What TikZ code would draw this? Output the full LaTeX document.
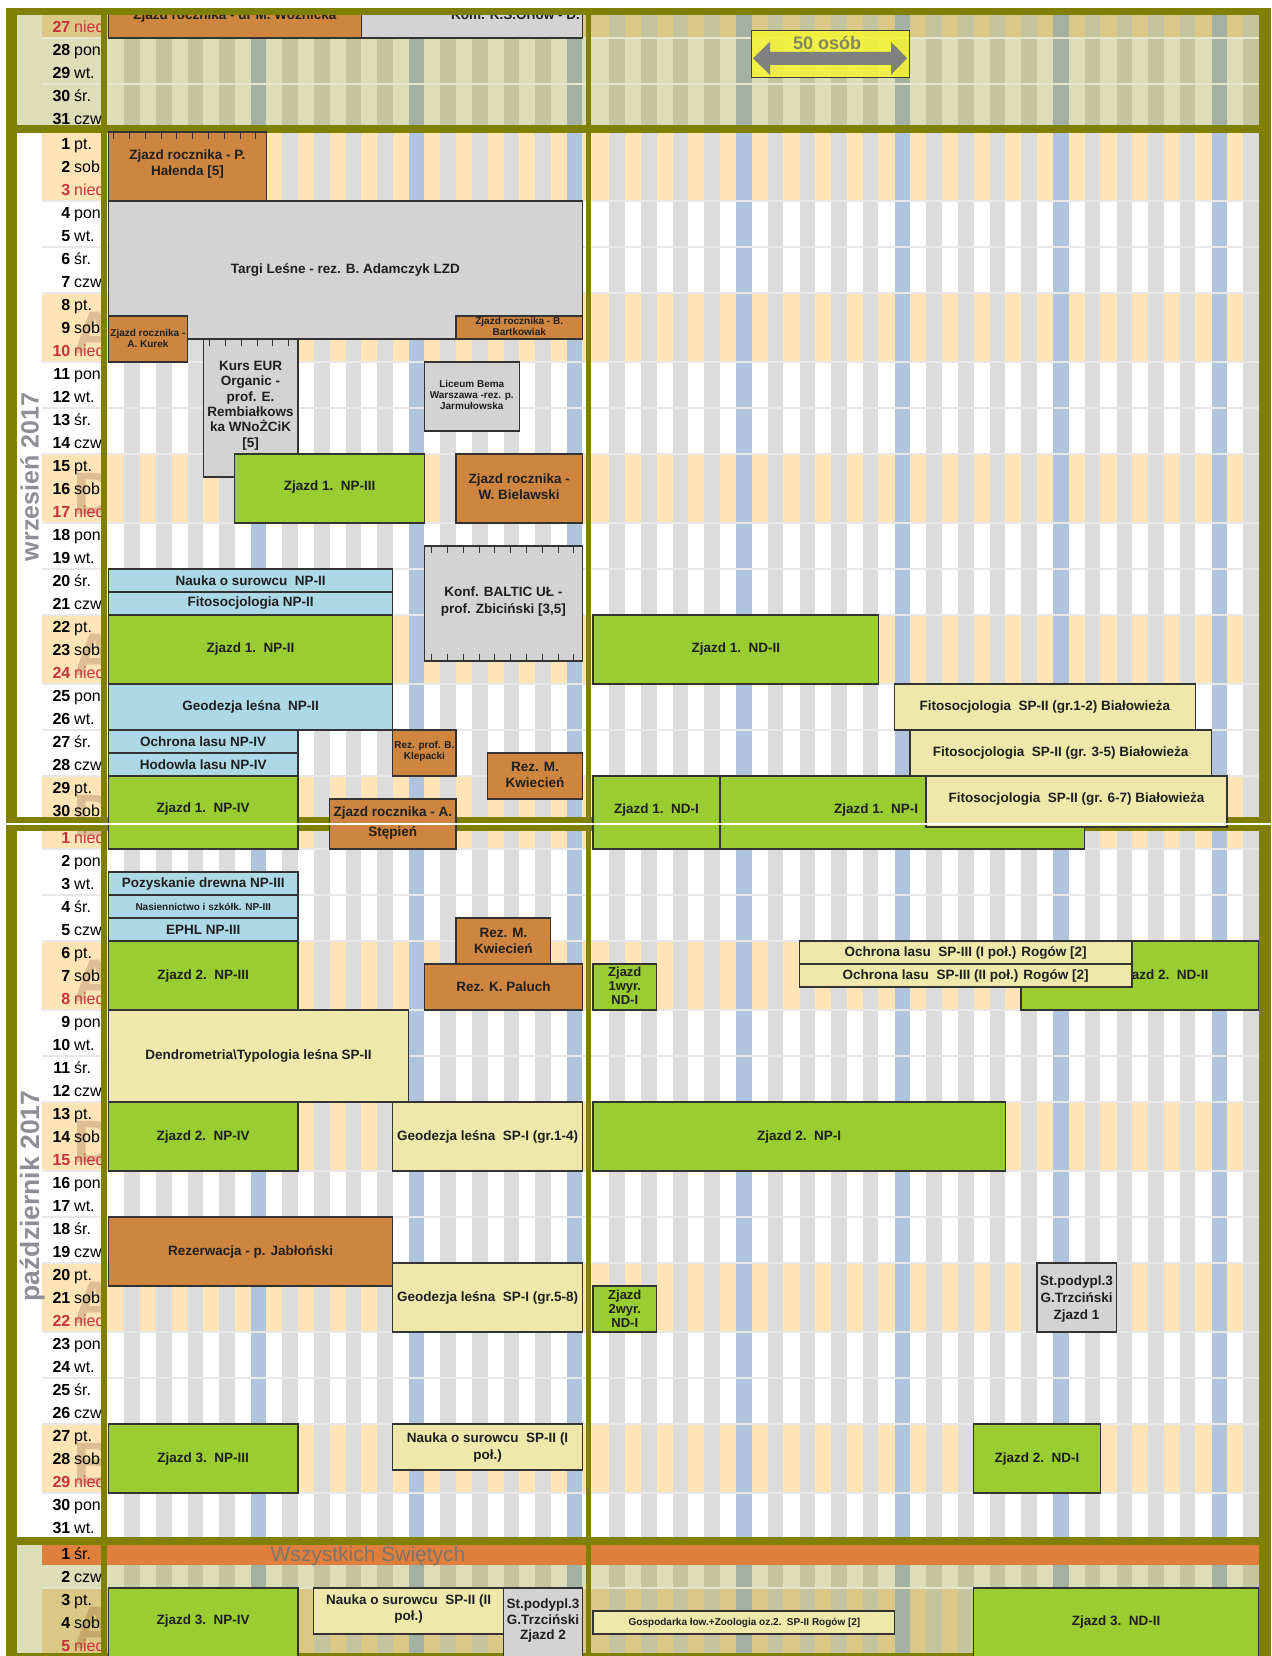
\documentclass[tikz,border=0pt]{standalone}
\usepackage{fontspec}
\setmainfont{Liberation Sans}

\definecolor{oliveband}{HTML}{808000}
\definecolor{peach}{HTML}{FFE4B5}
\definecolor{stripe}{HTML}{DCDCDC}
\definecolor{stripeblue}{HTML}{B0C4DE}
\definecolor{dimbase}{HTML}{DDDDB9}
\definecolor{dimwkend}{HTML}{DCC886}
\definecolor{dimstripe}{HTML}{C4C4A1}
\definecolor{dimblue}{HTML}{A2B1A1}
\definecolor{groupline}{HTML}{E8E8E8}
\definecolor{dimline}{HTML}{E6E6CF}
\definecolor{rocznik}{HTML}{CD853F}
\definecolor{zjazd}{HTML}{9ACD32}
\definecolor{kurs}{HTML}{ADD8E6}
\definecolor{teren}{HTML}{EEE8AA}
\definecolor{obcy}{HTML}{D3D3D3}
\definecolor{swieto}{HTML}{DF7F3E}
\definecolor{swietotxt}{HTML}{7E7468}
\definecolor{sunday}{HTML}{C8323C}
\definecolor{monthtxt}{HTML}{8E8E96}
\definecolor{weekmark}{HTML}{DDBE92}
\definecolor{weekmarkdim}{HTML}{C4A96A}
\definecolor{legendyellow}{HTML}{F4F336}
\definecolor{legendtxt}{HTML}{85855F}
\definecolor{arrowgray}{HTML}{808080}

\tikzset{
  evt/.style={draw=black!80, line width=1.3pt},
  tick/.style={draw=black!80, line width=0.9pt},
  lbl/.style={font=\bfseries\fontsize{13.5}{16}\selectfont, align=center, text=black!88, inner sep=0pt},
  tiny/.style={font=\bfseries\fontsize{10}{11}\selectfont, align=center, text=black!88, inner sep=0pt},
  daynum/.style={font=\bfseries\fontsize{16}{16}\selectfont, anchor=base east, inner sep=0pt},
  dayname/.style={font=\fontsize{16}{16}\selectfont, anchor=base west, inner sep=0pt},
  month/.style={font=\bfseries\fontsize{25}{25}\selectfont, text=monthtxt, rotate=90, anchor=base, inner sep=0pt},
  week/.style={font=\bfseries\fontsize{60}{60}\selectfont, text=weekmark, anchor=base west, inner sep=0pt}
}

% event box: fill, x1, y1, x2, y2
\newcommand{\evbox}[5]{\filldraw[evt, fill=#1] (#2,#3) rectangle (#4,#5);}
\newcommand{\wday}[1]{\ifcase#1 pon.\or wt.\or śr.\or czw.\or pt.\or sob.\or nied.\fi}
% day labels: prefix, first day, last day, weekday of first day, first baseline
\newcommand{\daylabels}[5]{%
  \foreach \d [count=\i from 0] in {#2,...,#3} {
    \pgfmathtruncatemacro\wk{mod(\i+#4,7)}
    \ifnum\wk=6 \def\dcol{sunday}\else\def\dcol{black}\fi
    \node[daynum, text=\dcol] (#1\d) at (70.5,{#5+23*\i}) {\d};
    \node[dayname, text=\dcol] (#1w\d) at (74,{#5+23*\i}) {\wday{\wk}};
  }}

\begin{document}
\begin{tikzpicture}[x=1pt,y=-1pt]
\useasboundingbox (0,0) rectangle (1271,1656);
\clip (0,0) rectangle (1271,1656);
\fill[white] (0,0) rectangle (1271,1656);

% row backgrounds
\fill[dimbase] (17,15) rectangle (1259,130);
\fill[dimwkend] (42,15) rectangle (1259,38);
\foreach \a/\b in {132/201, 293/362, 454/523, 615/684, 776/822, 826/849, 941/1010, 1102/1171, 1263/1332, 1424/1493}
  \fill[peach] (42,\a) rectangle (1259,\b);
\fill[dimbase] (17,1542) rectangle (1259,1656);
\fill[dimwkend] (42,1588) rectangle (1259,1656);

% column stripes
\foreach \ya/\yb/\sc/\bc in {15/130/dimstripe/dimblue, 132/822/stripe/stripeblue, 826/1539/stripe/stripeblue, 1542/1656/dimstripe/dimblue} {
  \foreach \k in {0,...,14} \fill[\sc] ({124.4+31.6*\k},\ya) rectangle ({140+31.6*\k},\yb);
  \foreach \k in {4,9,14} \fill[\bc] ({124.4+31.6*\k},\ya) rectangle ({140+31.6*\k},\yb);
  \foreach \k in {0,...,20} \fill[\sc] ({609.3+31.7*\k},\ya) rectangle ({624.8+31.7*\k},\yb);
  \foreach \k in {4,9,14,19} \fill[\bc] ({609.3+31.7*\k},\ya) rectangle ({624.8+31.7*\k},\yb);
}

% week group lines
\foreach \y in {38,84,1588} \draw[dimline, line width=2.5pt] (42,\y) -- (1259,\y);
\foreach \y in {201,247,293,362,408,454,523,569,615,684,730,776,849,895,941,1010,1056,1102,1171,1217,1263,1332,1378,1424,1493}
  \draw[groupline, line width=2.5pt] (42,\y) -- (1259,\y);
\fill[swieto] (42,1542) rectangle (1259,1565);

% day labels
\begin{scope}
  \clip (42,0) rectangle (101.4,1656);
  \foreach \t/\l [count=\i] in {293/A,454/D,615/A,776/D,941/A,1102/D,1263/A,1424/B}
    \node[week] (mark\i) at (73,\t+60) {\l};
  \node[week, text=weekmarkdim] (markn) at (73,1648) {A};
  \daylabels{aug}{27}{31}{6}{32.3}
  \daylabels{sep}{1}{30}{4}{149.3}
  \daylabels{oct}{1}{31}{6}{843.3}
  \daylabels{nov}{1}{5}{2}{1559.3}
\end{scope}
\node[month] (wrzesien) at (38.5,477) {wrzesień 2017};
\node[month, font=\bfseries\fontsize{26.5}{26.5}\selectfont] (pazdziernik) at (39,1196) {październik 2017};

% frame
\fill[oliveband] (5.7,8) rectangle (17,1656);
\fill[oliveband] (101.4,8) rectangle (107.2,1656);
\fill[oliveband] (585.5,8) rectangle (591,1656);
\fill[oliveband] (1259,8) rectangle (1271,1656);
\fill[oliveband] (5.7,125) rectangle (1271,133);
\fill[oliveband] (5.7,817) rectangle (1271,831);
\fill[oliveband] (5.7,1537) rectangle (1271,1545);
\fill[oliveband] (5.7,1653) rectangle (1271,1656);

% August
\evbox{rocznik}{108.4}{-5}{361.2}{38}
\node[lbl, anchor=base] (woznicka) at (234.8,19.5) {Zjazd rocznika - dr M. Woźnicka};
\evbox{obcy}{361.2}{-5}{582.4}{38}
\node[lbl, anchor=base east] (orlow) at (580,19.5) {Kom. K.S.Orłow - D.};
\filldraw[draw=black!75, line width=1pt, fill=legendyellow, fill opacity=0.88] (751,31) rectangle (909,78);
\fill[arrowgray] (753,58.3) -- (770,41.8) -- (770,51.8) -- (891,51.8) -- (891,41.8) -- (907,58.3) -- (891,74.8) -- (891,64.8) -- (770,64.8) -- (770,74.8) -- cycle;
\node[font=\bfseries\fontsize{18}{18}\selectfont, text=legendtxt, inner sep=0pt] (osob) at (827,43) {50 osób};

% September
\evbox{rocznik}{108.4}{132}{266.4}{201}
\foreach \t in {0,...,9} \draw[tick] (113.7+15.8*\t,132) -- ++(0,7);
\node[lbl] (halenda) at (187.4,164) {Zjazd rocznika - P.\\Hałenda [5]};
\evbox{obcy}{108.4}{201}{582.4}{339}
\node[lbl] (targi) at (345.4,270) {Targi Leśne - rez. B. Adamczyk LZD};
\evbox{rocznik}{108.4}{316}{187.4}{362}
\node[tiny] (kurek) at (147.9,338) {Zjazd rocznika -\\A. Kurek};
\evbox{rocznik}{456}{316}{582.4}{339}
\node[tiny] (bartkowiak) at (519.2,326) {Zjazd rocznika - B.\\Bartkowiak};
\evbox{obcy}{203.2}{339}{298}{477}
\foreach \t in {0,...,5} \draw[tick] (209.7+15.8*\t,339) -- ++(0,7);
\node[lbl, font=\bfseries\fontsize{13.5}{15.4}\selectfont] (eur) at (250.6,405.6) {Kurs EUR\\Organic -\\prof. E.\\Rembiałkows\\ka WNoŻCiK\\{[5]}};
\evbox{obcy}{424.4}{362}{519.2}{431}
\node[tiny] (liceum) at (471.8,394.5) {Liceum Bema\\Warszawa -rez. p.\\Jarmułowska};
\evbox{zjazd}{234.8}{454}{424.4}{523}
\node[lbl] (np3a) at (329.6,487.5) {Zjazd 1.\ \ NP-III};
\evbox{rocznik}{456}{454}{582.4}{523}
\node[lbl] (bielawski) at (519.2,486.5) {Zjazd rocznika -\\W. Bielawski};
\evbox{obcy}{424.4}{546}{582.4}{661}
\foreach \t in {0,...,9} {
  \draw[tick] (431.7+15.8*\t,546) -- ++(0,7);
  \draw[tick] (431.7+15.8*\t,661) -- ++(0,-7);
}
\node[lbl, font=\bfseries\fontsize{13.5}{17}\selectfont] (baltic) at (503.4,601.5) {Konf. BALTIC UŁ -\\prof. Zbiciński [3,5]};
\evbox{kurs}{108.4}{569}{392.8}{592}
\node[lbl] (nauka2) at (250.6,580.5) {Nauka o surowcu\ \ NP-II};
\evbox{kurs}{108.4}{592}{392.8}{615}
\node[lbl] (fito2) at (250.6,603.5) {Fitosocjologia NP-II};
\evbox{zjazd}{108.4}{615}{392.8}{684}
\node[lbl] (np2a) at (250.6,649.5) {Zjazd 1.\ \ NP-II};
\evbox{kurs}{108.4}{684}{392.8}{730}
\node[lbl] (geo2) at (250.6,707) {Geodezja leśna\ \ NP-II};
\evbox{kurs}{108.4}{730}{298}{753}
\node[lbl] (ochr4) at (203.2,741.5) {Ochrona lasu NP-IV};
\evbox{kurs}{108.4}{753}{298}{776}
\node[lbl] (hod4) at (203.2,764.5) {Hodowla lasu NP-IV};
\evbox{zjazd}{108.4}{776}{298}{849}
\node[lbl] (np4a) at (203.2,809) {Zjazd 1.\ \ NP-IV};
\evbox{rocznik}{392.8}{730}{456}{776}
\node[tiny] (klepacki) at (424.4,751.5) {Rez. prof. B.\\Klepacki};
\evbox{rocznik}{487.6}{753}{582.4}{799}
\node[lbl] (kwiecienA) at (535,774.5) {Rez. M.\\Kwiecień};
\evbox{rocznik}{329.6}{799}{456}{849}
\node[lbl, font=\bfseries\fontsize{13.5}{20}\selectfont] (stepien) at (392.8,823) {Zjazd rocznika - A.\\Stępień};
\evbox{zjazd}{593.1}{615}{878.4}{684}
\node[lbl] (nd2a) at (735.8,649.5) {Zjazd 1.\ \ ND-II};
\evbox{teren}{894.3}{684}{1195.4}{730}
\node[lbl] (fitoA) at (1044.9,707) {Fitosocjologia\ \ SP-II (gr.1-2) Białowieża};
\evbox{teren}{910.1}{730}{1211.3}{776}
\node[lbl] (fitoB) at (1060.7,753) {Fitosocjologia\ \ SP-II (gr. 3-5) Białowieża};
\evbox{zjazd}{593.1}{776}{719.9}{849}
\node[lbl] (nd1a) at (656.5,810) {Zjazd 1.\ \ ND-I};
\evbox{zjazd}{719.9}{776}{1084.5}{849}
\node[lbl] (np1a) at (876,810) {Zjazd 1.\ \ NP-I};
\evbox{teren}{926}{776}{1227.1}{827}
\node[lbl] (fitoC) at (1076.5,799) {Fitosocjologia\ \ SP-II (gr. 6-7) Białowieża};

% October
\evbox{kurs}{108.4}{872}{298}{895}
\node[lbl] (pozysk) at (203.2,883.5) {Pozyskanie drewna NP-III};
\evbox{kurs}{108.4}{895}{298}{918}
\node[tiny] (nasien) at (203.2,906.5) {Nasiennictwo i szkółk. NP-III};
\evbox{kurs}{108.4}{918}{298}{941}
\node[lbl] (ephl) at (203.2,929.5) {EPHL NP-III};
\evbox{zjazd}{108.4}{941}{298}{1010}
\node[lbl] (np3b) at (203.2,975.5) {Zjazd 2.\ \ NP-III};
\evbox{rocznik}{456}{918}{550.8}{964}
\node[lbl] (kwiecienB) at (503.4,941) {Rez. M.\\Kwiecień};
\evbox{rocznik}{424.4}{964}{582.4}{1010}
\node[lbl] (paluch) at (503.4,987) {Rez. K. Paluch};
\evbox{teren}{108.4}{1010}{408.6}{1102}
\node[lbl] (dendro) at (258.5,1056) {Dendrometria\textbackslash Typologia leśna SP-II};
\evbox{zjazd}{108.4}{1102}{298}{1171}
\node[lbl] (np4b) at (203.2,1136.5) {Zjazd 2.\ \ NP-IV};
\evbox{teren}{392.8}{1102}{582.4}{1171}
\node[lbl] (geoA) at (487.6,1136.5) {Geodezja leśna\ \ SP-I (gr.1-4)};
\evbox{rocznik}{108.4}{1217}{392.8}{1286}
\node[lbl] (jablonski) at (250.6,1251.5) {Rezerwacja - p. Jabłoński};
\evbox{teren}{392.8}{1263}{582.4}{1332}
\node[lbl] (geoB) at (487.6,1297.5) {Geodezja leśna\ \ SP-I (gr.5-8)};
\evbox{zjazd}{108.4}{1424}{298}{1493}
\node[lbl] (np3c) at (203.2,1458.5) {Zjazd 3.\ \ NP-III};
\evbox{teren}{392.8}{1424}{582.4}{1470}
\node[lbl, font=\bfseries\fontsize{13.5}{17}\selectfont] (naukaA) at (487.6,1447.5) {Nauka o surowcu\ \ SP-II (I\\poł.)};
\evbox{zjazd}{593.1}{964}{656.5}{1010}
\node[lbl, font=\bfseries\fontsize{13}{14}\selectfont] (wyr1) at (624.8,986) {Zjazd\\1wyr.\\ND-I};
\evbox{zjazd}{1021}{941}{1258.8}{1010}
\node[lbl] (nd2b) at (1164,976) {Zjazd 2.\ \ ND-II};
\evbox{teren}{799.2}{941}{1132}{964}
\node[lbl] (ochrA) at (965.6,952.5) {Ochrona lasu\ \ SP-III (I poł.) Rogów [2]};
\evbox{teren}{799.2}{964}{1132}{987}
\node[lbl] (ochrB) at (965.6,975.5) {Ochrona lasu\ \ SP-III (II poł.) Rogów [2]};
\evbox{zjazd}{593.1}{1102}{1005.2}{1171}
\node[lbl] (np1b) at (799.2,1136.5) {Zjazd 2.\ \ NP-I};
\evbox{obcy}{1036.9}{1263}{1116.2}{1332}
\node[lbl, font=\bfseries\fontsize{13.5}{17}\selectfont] (podypl1) at (1076.5,1299) {St.podypl.3\\G.Trzciński\\Zjazd 1};
\evbox{zjazd}{593.1}{1286}{656.5}{1332}
\node[lbl, font=\bfseries\fontsize{13}{14}\selectfont] (wyr2) at (624.8,1309) {Zjazd\\2wyr.\\ND-I};
\evbox{zjazd}{973.5}{1424}{1100.3}{1493}
\node[lbl] (nd1b) at (1036.9,1458.5) {Zjazd 2.\ \ ND-I};

% November
\node[font=\fontsize{21}{21}\selectfont, text=swietotxt, inner sep=0pt] (swieta) at (368,1554) {Wszystkich Świętych};
\evbox{zjazd}{108.4}{1588}{298}{1665}
\node[lbl] (np4c) at (203.2,1621) {Zjazd 3.\ \ NP-IV};
\evbox{teren}{313.8}{1588}{503.4}{1634}
\node[lbl] (naukaB) at (408.6,1609) {Nauka o surowcu\ \ SP-II (II\\poł.)};
\evbox{obcy}{503.4}{1588}{582.4}{1665}
\node[lbl, font=\bfseries\fontsize{13.5}{15.5}\selectfont] (podypl2) at (543,1620.5) {St.podypl.3\\G.Trzciński\\Zjazd 2};
\evbox{teren}{593.1}{1611}{894.3}{1634}
\node[tiny] (gosp) at (744.5,1622.5) {Gospodarka łow.+Zoologia oz.2.\ \ SP-II Rogów [2]};
\evbox{zjazd}{973.5}{1588}{1258.8}{1665}
\node[lbl] (nd2c) at (1116.2,1622) {Zjazd 3.\ \ ND-II};

% seam and top edge
\fill[white] (0,822.5) rectangle (1271,824.5);
\fill[white] (0,0) rectangle (1271,8);
\fill[oliveband] (5.7,8) rectangle (1271,15);
\end{tikzpicture}
\end{document}
